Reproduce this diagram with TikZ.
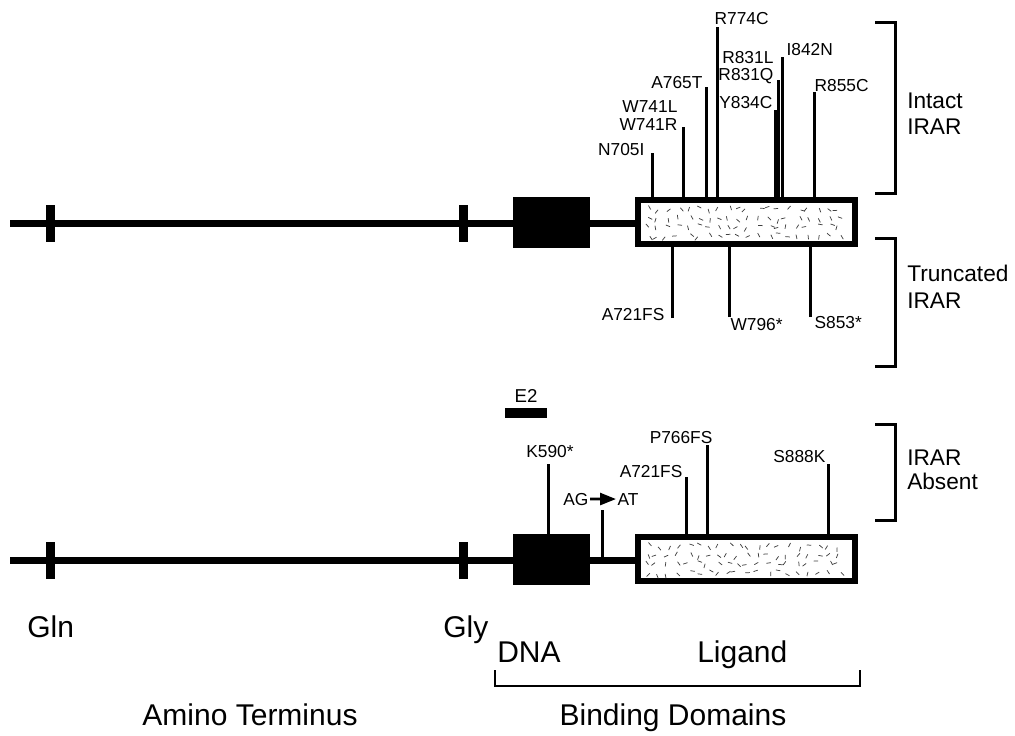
\documentclass[tikz,border=0pt]{standalone}
\usepackage{fontspec}
\setmainfont{Liberation Sans}
\usetikzlibrary{arrows.meta}

\begin{document}
\begin{tikzpicture}[
  x=0.75pt, y=-0.75pt,
  every node/.style={inner sep=1pt},
  backbone/.style={line width=5.25pt},
  tickbar/.style={fill=black, minimum width=6.75pt, minimum height=27.75pt, inner sep=0pt},
  dbd/.style={fill=black, minimum width=57.75pt, minimum height=38.25pt, inner sep=0pt},
  lbd/.style={draw, fill=white, line width=4.5pt, minimum width=162.75pt, minimum height=33pt, inner sep=0pt},
  mut/.style={line width=2.25pt},
  speck/.style={line width=0.55pt, black!75},
  brk/.style={line width=2.25pt},
  mlab/.style={font=\fontsize{13}{15}\selectfont},
  slab/.style={font=\fontsize{17}{20}\selectfont, inner sep=0pt},
  blab/.style={font=\fontsize{22.5}{26}\selectfont, inner sep=0pt}]

  \useasboundingbox (0,0) rectangle (1015,736);

  % ---- receptor, upper copy -----------------------------------------------
  \node[tickbar] (glnA) at (50,223.5)  {};
  \node[tickbar] (glyA) at (463,223.5) {};
  \node[dbd]     (dbdA) at (551.5,222.5) {};
  \node[lbd]     (lbdA) at (746.5,222) {};

  % ---- receptor, lower copy -----------------------------------------------
  \node[tickbar] (glnB) at (50,560.5)  {};
  \node[tickbar] (glyB) at (463,560.5) {};
  \node[dbd]     (dbdB) at (551.5,559.5) {};
  \node[lbd]     (lbdB) at (746.5,559) {};

  % stipple inside the ligand domains (jittered grid)
  \pgfmathsetseed{31}
  \foreach \c in {0,...,19}{
    \foreach \r in {0,...,3}{
      \pgfmathsetmacro{\sx}{648+10*\c+6*rnd-3}
      \pgfmathsetmacro{\sy}{208+9*\r+5*rnd-2.5}
      \pgfmathsetmacro{\sa}{180*rnd}
      \pgfmathsetmacro{\sb}{180*rnd}
      \draw[speck] (\sx,\sy) -- ++(\sa:4.5);
      \draw[speck] (\sx,\sy+337) -- ++(\sb:4.5);
    }
  }

  % backbones
  \coordinate (startA) at (10,223);
  \coordinate (startB) at (10,560);
  \draw[backbone] (startA) -- (startA -| lbdA.west);
  \draw[backbone] (startB) -- (startB -| lbdB.west);

  % ---- intact IRAR mutations ----------------------------------------------
  \coordinate (n705) at (652,153);
  \coordinate (w741) at (683,127);
  \coordinate (a765) at (706,87);
  \coordinate (r774) at (717,27);
  \coordinate (y834) at (775,110);
  \coordinate (r831) at (778.5,80);
  \coordinate (i842) at (782,57);
  \coordinate (r855) at (814,92);
  \foreach \m in {n705,w741,a765,r774,y834,r831,i842,r855}
    \draw[mut] (\m) -- (\m |- lbdA.north);

  \node[mlab, anchor=base east] (tn705)  at (646,155) {N705I};
  \node[mlab, anchor=base east] (tw741l) at (679,112) {W741L};
  \node[mlab, anchor=base east] (tw741r) at (679,130) {W741R};
  \node[mlab, anchor=base east] (ta765)  at (704,88)  {A765T};
  \node[mlab, anchor=base west] (tr774)  at (713,24)  {R774C};
  \node[mlab, anchor=base east] (tr831l) at (775,63)  {R831L};
  \node[mlab, anchor=base east] (tr831q) at (775,80)  {R831Q};
  \node[mlab, anchor=base east] (ty834)  at (774,108) {Y834C};
  \node[mlab, anchor=base west] (ti842)  at (785,55)  {I842N};
  \node[mlab, anchor=base west] (tr855)  at (813,91)  {R855C};

  % ---- truncated IRAR mutations -------------------------------------------
  \coordinate (a721) at (672,318);
  \coordinate (w796) at (729,317);
  \coordinate (s853) at (810,317);
  \foreach \m in {a721,w796,s853}
    \draw[mut] (\m) -- (\m |- lbdA.south);

  \node[mlab, anchor=base east] (ta721) at (666,320) {A721FS};
  \node[mlab, anchor=base west] (tw796) at (729,330) {W796*};
  \node[mlab, anchor=base west] (ts853) at (813,328) {S853*};

  % ---- IRAR absent mutations ----------------------------------------------
  \coordinate (k590) at (548,464);
  \draw[mut] (k590) -- (k590 |- dbdB.north);
  \coordinate (agat) at (602,510);
  \draw[mut] (agat) -- (agat |- startB);
  \coordinate (a721b) at (686,477);
  \coordinate (p766) at (707,445);
  \coordinate (s888) at (828,464);
  \foreach \m in {a721b,p766,s888}
    \draw[mut] (\m) -- (\m |- lbdB.north);

  \node[mlab, anchor=base]      (tk590)  at (550,457) {K590*};
  \node[mlab, anchor=base east] (tag)    at (590,505) {AG};
  \node[mlab, anchor=base west] (tat)    at (616,505) {AT};
  \draw[line width=2pt, -{Triangle[length=12pt, width=9pt]}] (tag.east) -- (tat.west);
  \node[mlab, anchor=base east] (ta721b) at (684,477) {A721FS};
  \node[mlab, anchor=base east] (tp766)  at (714,443) {P766FS};
  \node[mlab, anchor=base east] (ts888)  at (827,462) {S888K};

  % exon 2 marker
  \node[fill=black, minimum width=31.5pt, minimum height=7.5pt, inner sep=0pt] (e2bar) at (526,413) {};
  \node[mlab, anchor=base, font=\fontsize{14}{16}\selectfont] (te2) at (526,402) {E2};

  % ---- right brackets -----------------------------------------------------
  \coordinate (intactT) at (875,22);
  \coordinate (truncT)  at (875,238);
  \coordinate (absentT) at (875,424);
  \draw[brk] (intactT) -- ++(20,0) -- ++(0,171) -- ++(-20,0);
  \draw[brk] (truncT)  -- ++(20,0) -- ++(0,128) -- ++(-20,0);
  \draw[brk] (absentT) -- ++(20,0) -- ++(0,96)  -- ++(-20,0);

  \node[slab, anchor=base west] (tintact) at (907,108) {Intact};
  \node[slab, anchor=base west] (tirar1)  at (907,134) {IRAR};
  \node[slab, anchor=base west] (ttrunc)  at (907,281) {Truncated};
  \node[slab, anchor=base west] (tirar2)  at (907,308) {IRAR};
  \node[slab, anchor=base west] (tirar3)  at (907,465) {IRAR};
  \node[slab, anchor=base west] (tabsent) at (907,489) {Absent};

  % ---- bottom labels ------------------------------------------------------
  \node[blab, anchor=base west] (tgln) at (27,637)  {Gln};
  \node[blab, anchor=base west] (tgly) at (443,637) {Gly};
  \node[blab, anchor=base west] (tdna) at (497,662) {DNA};
  \node[blab, anchor=base west] (tlig) at (697,662) {Ligand};
  \coordinate (bindL) at (495,670);
  \coordinate (bindR) at (860,670);
  \draw[line width=1.5pt] (bindL) -- ++(0,16) -| (bindR);
  \node[blab, anchor=base] (tamino) at (250,725) {Amino Terminus};
  \node[blab, anchor=base] (tbind)  at (673,725) {Binding Domains};
\end{tikzpicture}
\end{document}
